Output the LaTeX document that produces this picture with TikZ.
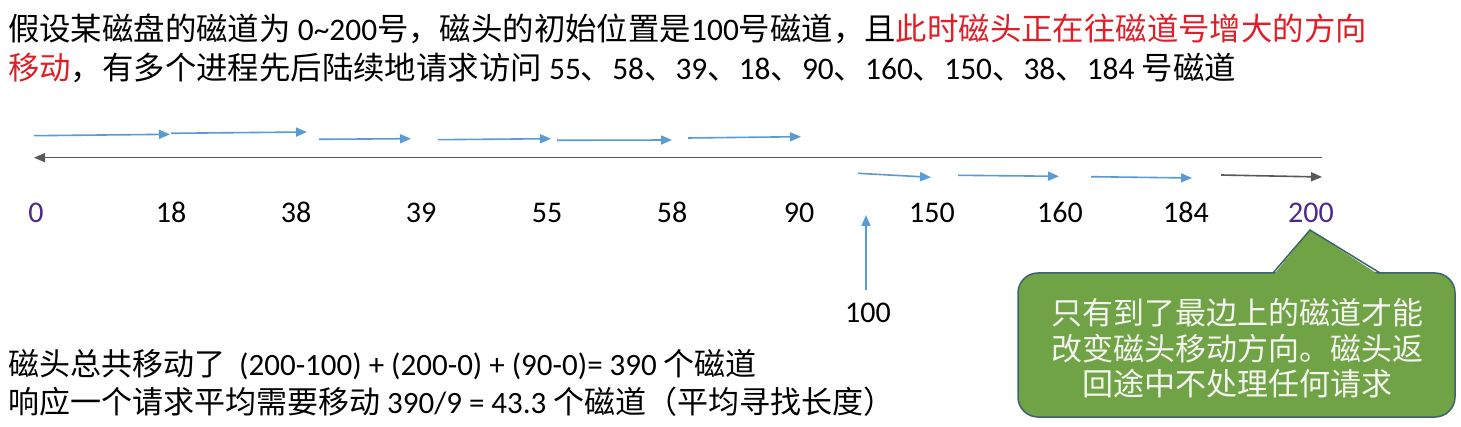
\documentclass[tikz,border=0pt]{standalone}
\usepackage{fontspec}
\setmainfont{Carlito}
\newfontfamily\cjk{Noto Sans CJK SC}
\usetikzlibrary{arrows.meta}
\newcommand\zh[1]{{\cjk #1}}
\definecolor{arrblue}{RGB}{91,155,213}
\definecolor{axisgray}{RGB}{89,89,89}
\definecolor{redtxt}{RGB}{225,30,40}
\definecolor{purp}{RGB}{80,40,140}
\definecolor{notefill}{RGB}{112,162,70}
\definecolor{noteline}{RGB}{62,98,108}
\definecolor{notetxt}{RGB}{245,245,240}
\begin{document}
\begin{tikzpicture}[x=1pt,y=-1pt,
  txt/.style={inner sep=0pt, font=\fontsize{31}{37}\selectfont, anchor=base west},
  ttl/.style={inner sep=0pt, font=\fontsize{31.4}{37}\selectfont, anchor=base west},
  lbl/.style={inner sep=0pt, font=\fontsize{30}{36}\selectfont, anchor=base},
  barrow/.style={draw=arrblue, line width=1.6pt, -{Triangle[length=11pt,width=9pt]}},
  garrow/.style={draw=axisgray, line width=1.6pt, -{Triangle[length=11pt,width=9pt]}},
  callbox/.style={draw=noteline, line width=1.5pt, fill=notefill, rounded corners=20pt,
    minimum width=437pt, minimum height=144pt, inner sep=0pt},
  calltxt/.style={inner sep=0pt, align=center, text=notetxt,
    font=\cjk\fontsize{31}{35.5}\selectfont}]
\fill[white] (0,0) rectangle (1461,427);
\useasboundingbox (0,0) rectangle (1461,427);

% title
\node[ttl] (t1) at (8,41) {\zh{假设某磁盘的磁道为} 0\textasciitilde200\zh{号，磁头的初始位置是}100\zh{号磁道，且}\textcolor{redtxt}{\zh{此时磁头正在往磁道号增大的方向}}};
\node[ttl] (t2) at (8,80) {\textcolor{redtxt}{\zh{移动}}\zh{，有多个进程先后陆续地请求访问} 55\zh{、}58\zh{、}39\zh{、}18\zh{、}90\zh{、}160\zh{、}150\zh{、}38\zh{、}184 \zh{号磁道}};

% axis
\coordinate (axL) at (34,157.7);
\coordinate (axR) at (1322,157.7);
\draw[garrow] (axR) -- (axL);

% upper arrows
\coordinate (u1s) at (34,135.7);  \coordinate (u1e) at (170,134.3);
\coordinate (u2s) at (171,133.3); \coordinate (u2e) at (307,132);
\coordinate (u3s) at (319,139.3); \coordinate (u3e) at (411,138.7);
\coordinate (u4s) at (438,139.7); \coordinate (u4e) at (551,138.7);
\coordinate (u5s) at (557,140.3); \coordinate (u5e) at (672,140);
\coordinate (u6s) at (688,138);   \coordinate (u6e) at (801,136.7);
\draw[barrow] (u1s) -- (u1e);
\draw[barrow] (u2s) -- (u2e);
\draw[barrow] (u3s) -- (u3e);
\draw[barrow] (u4s) -- (u4e);
\draw[barrow] (u5s) -- (u5e);
\draw[barrow] (u6s) -- (u6e);

% lower arrows
\coordinate (l1s) at (858,173.3);  \coordinate (l1e) at (931,177.3);
\coordinate (l2s) at (958,175.3);  \coordinate (l2e) at (1059,176.3);
\coordinate (l3s) at (1091,176.7); \coordinate (l3e) at (1192,178);
\coordinate (l4s) at (1221,175);   \coordinate (l4e) at (1322,177);
\draw[barrow] (l1s) -- (l1e);
\draw[barrow] (l2s) -- (l2e);
\draw[barrow] (l3s) -- (l3e);
\draw[garrow] (l4s) -- (l4e);

% labels
\node[lbl, text=purp] (n0) at (36,223) {0};
\node[lbl] (n18) at (171,223) {18};
\node[lbl] (n38) at (296,223) {38};
\node[lbl] (n39) at (421,223) {39};
\node[lbl] (n55) at (547,223) {55};
\node[lbl] (n58) at (672,223) {58};
\node[lbl] (n90) at (799,223) {90};
\node[lbl] (n150) at (932,223) {150};
\node[lbl] (n160) at (1060,223) {160};
\node[lbl] (n184) at (1186,223) {184};
\node[lbl, text=purp] (n200) at (1311,223) {200};

% start position
\node[lbl] (n100) at (868,323) {100};
\coordinate (hs) at (866,290);
\coordinate (he) at (866,215);
\draw[barrow] (hs) -- (he);

% bottom text
\node[txt] (b1) at (8,375) {\zh{磁头总共移动了}\ \ (200-100) + (200-0) + (90-0)= 390 \zh{个磁道}};
\node[txt] (b2) at (8,413) {\zh{响应一个请求平均需要移动} 390/9 = 43.3 \zh{个磁道（平均寻找长度）}};

% callout
\node[callbox] (note) at (1236.5,345) {};
\coordinate (pL) at (1273,273);
\coordinate (pT) at (1310,230);
\coordinate (pR) at (1380,273);
\fill[notefill] ([yshift=-2.5pt]pL) -- (pT) -- ([yshift=-2.5pt]pR) -- cycle;
\draw[noteline, line width=1.5pt, line join=miter] (pL) -- (pT) -- (pR);
\node[calltxt] (notetext) at (1237.5,348.5) {只有到了最边上的磁道才能\\改变磁头移动方向。磁头返\\回途中不处理任何请求};
\end{tikzpicture}
\end{document}
